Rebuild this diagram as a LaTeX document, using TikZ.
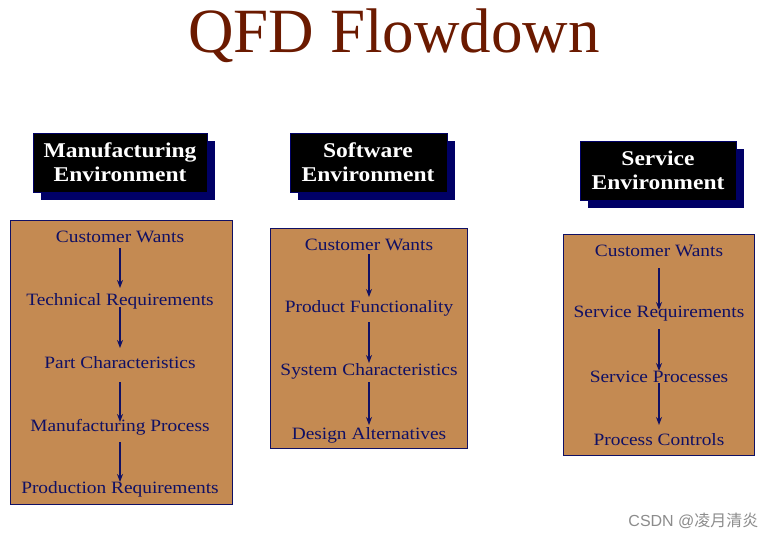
\documentclass[tikz,border=0pt]{standalone}
\usepackage{fontspec}
\setmainfont[FakeStretch=1.12]{Liberation Serif}
\newfontfamily\titlefont{Liberation Serif}
\newfontfamily\cjkfont{Noto Sans CJK SC}
\newfontfamily\wmfont{Liberation Sans}
\usetikzlibrary{arrows.meta}
\definecolor{titlebrown}{RGB}{107,26,0}
\definecolor{boxorange}{RGB}{196,138,82}
\definecolor{navy}{RGB}{16,16,100}
\definecolor{shadownavy}{RGB}{0,0,102}
\begin{document}
\begin{tikzpicture}[x=1pt,y=-1pt,
  panel/.style={draw=navy,line width=0.8pt,fill=boxorange},
  item/.style={text=navy,font=\fontsize{17.3}{19}\selectfont,inner sep=1pt},
  head/.style={text=white,font=\bfseries\fontsize{21}{24}\selectfont,align=center,inner sep=0pt},
  hbox/.style={fill=black,draw=shadownavy,line width=0.6pt},
  hshadow/.style={fill=shadownavy},
  arr/.style={draw=navy,line width=2pt,-{Stealth[length=8pt,width=6pt]}}]
\useasboundingbox (0,0) rectangle (777,539);
\fill[white] (0,0) rectangle (777,539);
% title
\node[text=titlebrown,font=\titlefont\fontsize{63}{70}\selectfont] (title) at (394,36) {QFD Flowdown};
% header boxes
\fill[hshadow] (41,141) rectangle (215,200);
\filldraw[hbox] (33,133) rectangle (207,192);
\node[head] (h1) at (120,162) {Manufacturing\\Environment};
\fill[hshadow] (298,141) rectangle (455,200);
\filldraw[hbox] (290,133) rectangle (447,192);
\node[head] (h2) at (368,162) {Software\\Environment};
\fill[hshadow] (588,149) rectangle (744,208);
\filldraw[hbox] (580,141) rectangle (736,200);
\node[head] (h3) at (658,170) {Service\\Environment};
% panels
\draw[panel] (10,220) rectangle (232,504);
\draw[panel] (270,228) rectangle (467,448);
\draw[panel] (563,234) rectangle (754,455);
% manufacturing
\node[item] (m1) at (120,237) {Customer Wants};
\node[item] (m2) at (120,301) {Technical Requirements};
\node[item] (m3) at (120,363) {Part Characteristics};
\node[item] (m4) at (120,427) {Manufacturing Process};
\node[item] (m5) at (120,489) {Production Requirements};
\draw[arr,shorten <=11pt,shorten >=13pt] (m1.center) -- (m2.center);
\draw[arr,shorten <=6pt,shorten >=15pt] (m2.center) -- (m3.center);
\draw[arr,shorten <=19pt,shorten >=5pt] (m3.center) -- (m4.center);
\draw[arr,shorten <=15pt,shorten >=7pt] (m4.center) -- (m5.center);
% software
\node[item] (s1) at (369,245) {Customer Wants};
\node[item] (s2) at (369,308) {Product Functionality};
\node[item] (s3) at (369,371) {System Characteristics};
\node[item] (s4) at (369,435) {Design Alternatives};
\draw[arr,shorten <=9pt,shorten >=11pt] (s1.center) -- (s2.center);
\draw[arr,shorten <=14pt,shorten >=8pt] (s2.center) -- (s3.center);
\draw[arr,shorten <=11pt,shorten >=10pt] (s3.center) -- (s4.center);
% service
\node[item] (v1) at (659,251) {Customer Wants};
\node[item] (v2) at (659,314) {Service Requirements};
\node[item] (v3) at (659,377) {Service Processes};
\node[item] (v4) at (659,440) {Process Controls};
\draw[arr,shorten <=17pt,shorten >=4pt] (v1.center) -- (v2.center);
\draw[arr,shorten <=15pt,shorten >=6pt] (v2.center) -- (v3.center);
\draw[arr,shorten <=6pt,shorten >=15pt] (v3.center) -- (v4.center);
% watermark
\node[text=black!45,font=\fontsize{16}{18}\selectfont,anchor=east] (wm) at (762,521) {\wmfont CSDN @\cjkfont 凌月清炎};
\end{tikzpicture}
\end{document}
